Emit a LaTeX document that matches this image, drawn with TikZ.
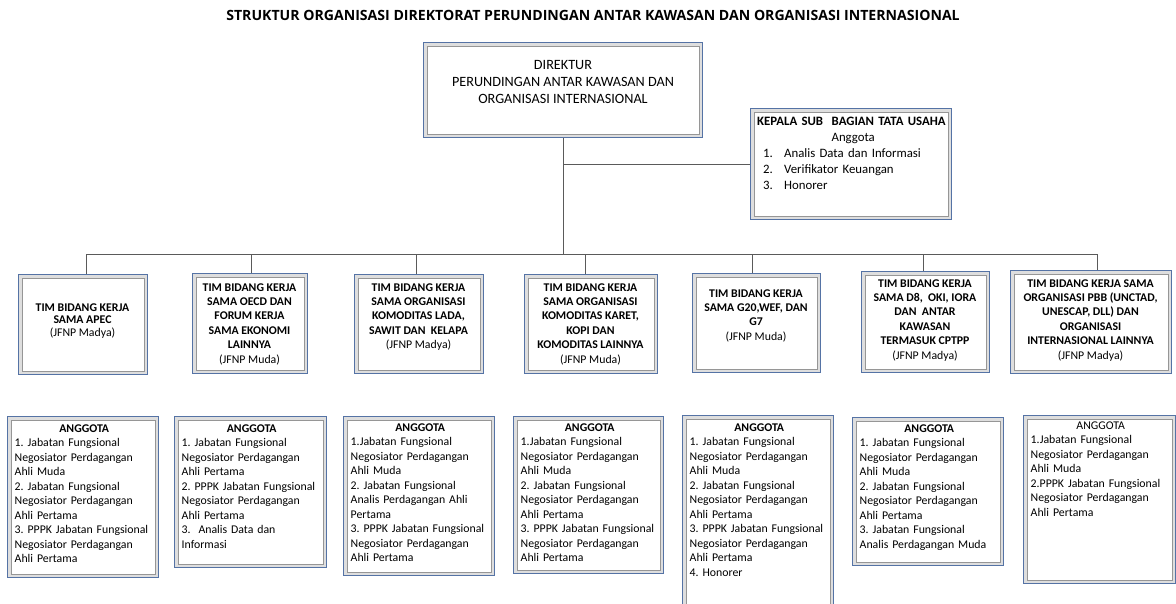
\documentclass[tikz,border=0pt]{standalone}
\usepackage{fontspec}
\setmainfont{Carlito}
\newfontfamily\titlefont{Open Sans}
\frenchspacing
\definecolor{frameblue}{RGB}{85,115,165}
\definecolor{bandgray}{RGB}{222,222,222}
\definecolor{innergray}{RGB}{150,150,150}
\definecolor{linecol}{RGB}{90,90,90}
\tikzset{
 frame/.style={draw=frameblue, line width=1pt, fill=bandgray, inner sep=0pt, anchor=north west,
   path picture={\draw[innergray, line width=0.9pt, fill=white]
     ([shift={(3.5pt,-3.5pt)}]path picture bounding box.north west) rectangle
     ([shift={(-3.5pt,3.5pt)}]path picture bounding box.south east);}},
 conn/.style={draw=linecol, line width=0.8pt},
 teamtxt/.style={font=\bfseries\fontsize{11.8}{14.4}\selectfont, align=center, inner sep=0pt, anchor=north},
 memtxt/.style={font=\fontsize{11.8}{14.5}\selectfont, align=left, inner sep=0pt, anchor=north west},
}
\begin{document}
\begin{tikzpicture}[x=1pt,y=-1pt]
\path[use as bounding box, clip] (0,0) rectangle (1176,603);
\fill[white] (0,0) rectangle (1176,603);

% title
\node[font=\titlefont\bfseries\fontsize{14.1}{16}\selectfont, inner sep=0pt] (title) at (593,15)
 {STRUKTUR ORGANISASI DIREKTORAT PERUNDINGAN ANTAR KAWASAN DAN ORGANISASI INTERNASIONAL};

% director
\node[frame, minimum width=279pt, minimum height=95pt] (dir) at (423,42) {};
\node[font=\fontsize{14.2}{17}\selectfont, align=center, inner sep=0pt, anchor=north] (dirt) at (563,60.4)
 {DIREKTUR\\PERUNDINGAN ANTAR KAWASAN DAN\\ORGANISASI INTERNASIONAL};

% kasubbag TU
\node[frame, minimum width=201pt, minimum height=111pt] (ks) at (750,108) {};
\node[font=\fontsize{12.8}{16}\selectfont, align=left, text width=192pt, inner sep=0pt, anchor=north west] (kst) at (757,116.9)
 {\textbf{KEPALA SUB\ \ BAGIAN TATA USAHA}\\
  \makebox[\linewidth]{Anggota}\\
  \hspace*{6pt}\makebox[21pt][l]{1.}Analis Data dan Informasi\\
  \hspace*{6pt}\makebox[21pt][l]{2.}Verifikator Keuangan\\
  \hspace*{6pt}\makebox[21pt][l]{3.}Honorer};

% team boxes
\node[frame, minimum width=129pt, minimum height=100pt] (b1) at (18,274) {};
\node[frame, minimum width=115pt, minimum height=100pt] (b2) at (192,273) {};
\node[frame, minimum width=129pt, minimum height=99pt] (b3) at (354,274) {};
\node[frame, minimum width=133pt, minimum height=99pt] (b4) at (524,274) {};
\node[frame, minimum width=128pt, minimum height=99pt] (b5) at (692,273) {};
\node[frame, minimum width=128pt, minimum height=101pt] (b6) at (861,271) {};
\node[frame, minimum width=161pt, minimum height=103pt] (b7) at (1010,270) {};

\node[teamtxt, font=\bfseries\fontsize{11.8}{12.8}\selectfont] (t1) at (82.5,303.2)
 {TIM BIDANG KERJA\\SAMA APEC\\{\mdseries (JFNP Madya)}};
\node[teamtxt] (t2) at (249.5,283.2)
 {TIM BIDANG KERJA\\SAMA OECD DAN\\FORUM KERJA\\SAMA EKONOMI\\LAINNYA\\{\mdseries (JFNP Muda)}};
\node[teamtxt] (t3) at (418.5,283.2)
 {TIM BIDANG KERJA\\SAMA ORGANISASI\\KOMODITAS LADA,\\SAWIT DAN\ \ KELAPA\\{\mdseries (JFNP Madya)}};
\node[teamtxt] (t4) at (590.5,283.2)
 {TIM BIDANG KERJA\\SAMA ORGANISASI\\KOMODITAS KARET,\\KOPI DAN\\KOMODITAS LAINNYA\\{\mdseries (JFNP Muda)}};
\node[teamtxt] (t5) at (756,289.2)
 {TIM BIDANG KERJA\\SAMA G20,WEF, DAN\\G7\\{\mdseries (JFNP Muda)}};
\node[teamtxt] (t6) at (925,279.2)
 {TIM BIDANG KERJA\\SAMA D8,\ \ OKI, IORA\\DAN\ \ ANTAR\\KAWASAN\\TERMASUK CPTPP\\{\mdseries (JFNP Madya)}};
\node[teamtxt] (t7) at (1090.5,279.2)
 {TIM BIDANG KERJA SAMA\\ORGANISASI PBB (UNCTAD,\\UNESCAP, DLL) DAN\\ORGANISASI\\INTERNASIONAL LAINNYA\\{\mdseries (JFNP Madya)}};

% member boxes
\node[frame, minimum width=151pt, minimum height=161pt] (m1) at (7,416) {};
\node[frame, minimum width=152pt, minimum height=151pt] (m2) at (174,416) {};
\node[frame, minimum width=151pt, minimum height=159pt] (m3) at (343,416) {};
\node[frame, minimum width=150pt, minimum height=157pt] (m4) at (513,416) {};
\node[frame, minimum width=151pt, minimum height=200pt] (m5) at (682,415) {};
\node[frame, minimum width=151pt, minimum height=148pt] (m6) at (852,417) {};
\node[frame, minimum width=152pt, minimum height=168pt] (m7) at (1023,415) {};

\node[memtxt, text width=139pt] (n1) at (14.5,424.2)
 {\makebox[\linewidth]{\textbf{ANGGOTA}}\\
  1. Jabatan Fungsional\\Negosiator Perdagangan\\Ahli Muda\\
  2. Jabatan Fungsional\\Negosiator Perdagangan\\Ahli Pertama\\
  3. PPPK Jabatan Fungsional\\Negosiator Perdagangan\\Ahli Pertama};
\node[memtxt, text width=140pt] (n2) at (181.5,424.2)
 {\makebox[\linewidth]{\textbf{ANGGOTA}}\\
  1. Jabatan Fungsional\\Negosiator Perdagangan\\Ahli Pertama\\
  2. PPPK Jabatan Fungsional\\Negosiator Perdagangan\\Ahli Pertama\\
  3.\ \ Analis Data dan\\Informasi};
\node[memtxt, text width=139pt] (n3) at (350.5,423.2)
 {\makebox[\linewidth]{\textbf{ANGGOTA}}\\
  1.Jabatan Fungsional\\Negosiator Perdagangan\\Ahli Muda\\
  2. Jabatan Fungsional\\Analis Perdagangan Ahli\\Pertama\\
  3. PPPK Jabatan Fungsional\\Negosiator Perdagangan\\Ahli Pertama};
\node[memtxt, text width=138pt] (n4) at (520.5,423.2)
 {\makebox[\linewidth]{\textbf{ANGGOTA}}\\
  1.Jabatan Fungsional\\Negosiator Perdagangan\\Ahli Muda\\
  2. Jabatan Fungsional\\Negosiator Perdagangan\\Ahli Pertama\\
  3. PPPK Jabatan Fungsional\\Negosiator Perdagangan\\Ahli Pertama};
\node[memtxt, text width=139pt] (n5) at (689.5,423.2)
 {\makebox[\linewidth]{\textbf{ANGGOTA}}\\
  1. Jabatan Fungsional\\Negosiator Perdagangan\\Ahli Muda\\
  2. Jabatan Fungsional\\Negosiator Perdagangan\\Ahli Pertama\\
  3. PPPK Jabatan Fungsional\\Negosiator Perdagangan\\Ahli Pertama\\
  4. Honorer};
\node[memtxt, text width=139pt] (n6) at (859.5,424.2)
 {\makebox[\linewidth]{\textbf{ANGGOTA}}\\
  1. Jabatan Fungsional\\Negosiator Perdagangan\\Ahli Muda\\
  2. Jabatan Fungsional\\Negosiator Perdagangan\\Ahli Pertama\\
  3. Jabatan Fungsional\\Analis Perdagangan Muda};
\node[memtxt, text width=140pt] (n7) at (1030.5,421.2)
 {\makebox[\linewidth]{ANGGOTA}\\
  1.Jabatan Fungsional\\Negosiator Perdagangan\\Ahli Muda\\
  2.PPPK Jabatan Fungsional\\Negosiator Perdagangan\\Ahli Pertama};

% connectors
\coordinate (d1) at (86,254);
\coordinate (d2) at (251,254);
\coordinate (d3) at (416,254);
\coordinate (d4) at (585,254);
\coordinate (d5) at (752,254);
\coordinate (d6) at (923,254);
\coordinate (d7) at (1097,254);
\draw[conn] (dir.south) -- (dir.south |- d1);
\draw[conn] (ks.west) -- (ks.west -| dir.south);
\draw[conn] (d1) -- (d7);
\draw[conn] (d1) -- (d1 |- b1.north);
\draw[conn] (d2) -- (d2 |- b2.north);
\draw[conn] (d3) -- (d3 |- b3.north);
\draw[conn] (d4) -- (d4 |- b4.north);
\draw[conn] (d5) -- (d5 |- b5.north);
\draw[conn] (d6) -- (d6 |- b6.north);
\draw[conn] (d7) -- (d7 |- b7.north);
\end{tikzpicture}
\end{document}
